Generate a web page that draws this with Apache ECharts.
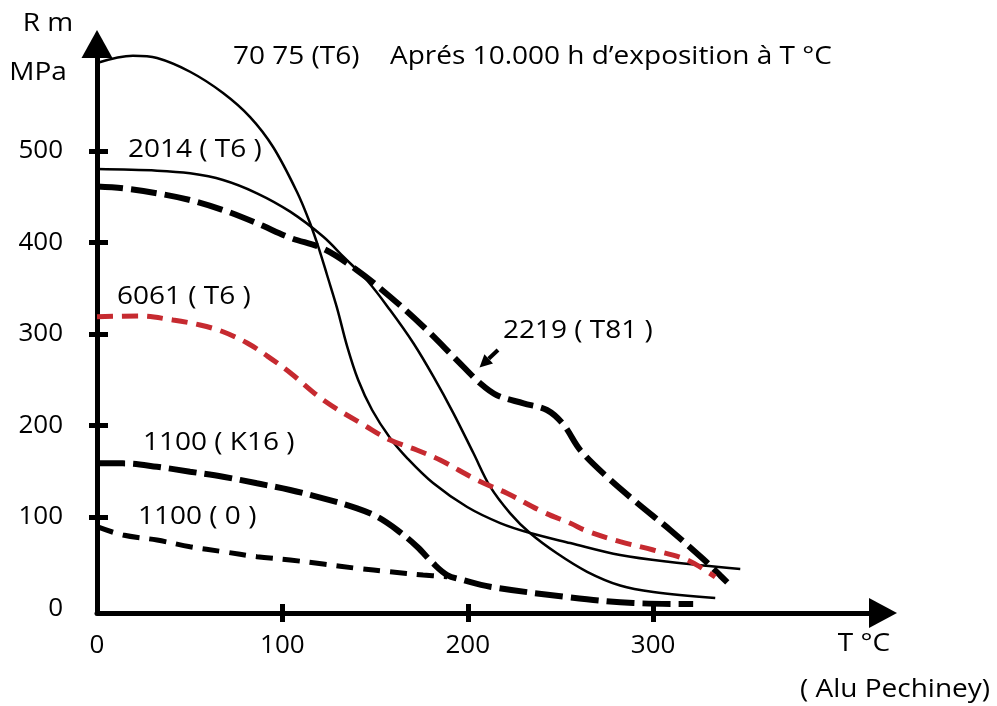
<!DOCTYPE html>
<html>
<head>
<meta charset="utf-8">
<script src="https://cdn.jsdelivr.net/npm/echarts@6/dist/echarts.min.js"></script>
<style>html,body{margin:0;padding:0;background:#fff;}#c{width:997px;height:706px;}</style>
</head>
<body>
<div id="c"></div>
<script>
// Temperature (°C) / Rm (MPa) pairs
const s7075 = [[0,596],[19.4,603.9],[32.4,601.4],[50.2,586.4],[68,563.2],[82.6,536.9],[95,504.2],[107.9,455],[114.9,421.1],[120.3,389.4],[124.1,364.3],[129.5,328.2],[134.9,286.7],[140.9,249.6],[148.4,216.8],[158.1,186.2],[167.3,164.3],[181.3,137],[199.7,110.8],[217.5,93.3],[233.7,82.4],[255.3,71.4],[282.2,58.3],[309.2,50.7],[347,43.1]];
const s2014 = [[0,480],[32.4,478.3],[50.2,475.4],[68,468.1],[86.3,453.6],[104.2,433.5],[122.1,406.1],[132.9,384.3],[145.5,358.8],[158.1,326],[170.7,289.7],[181.5,253.2],[192.3,213.2],[203.1,169.5],[212.1,133],[222.9,103.9],[233.7,82.1],[248.1,60.2],[264.4,40],[282.2,25],[300.1,18],[333.5,11.4]];
const s2219 = [[0,461],[14,459],[32.4,453.6],[50.2,446.2],[68,435.3],[86.3,420.8],[104.2,405],[122.1,393],[140.1,369.8],[158.1,340.6],[176.1,307.8],[194.1,271.4],[206.7,246],[215.7,233],[230.1,224.1],[242.7,216.8],[251.6,201],[260.7,173],[275.2,143.6],[291.4,115.2],[309.2,85.7],[327,54],[336.2,36],[340,28.4]];
const s6061 = [[0,318.7],[23.2,319.5],[41,315.1],[55.6,309.7],[68,302.3],[81,290],[91.7,276],[104.2,257.5],[122.1,227.7],[145.5,198.5],[158.1,184],[172.5,173.1],[185.1,162.2],[205,140.3],[221.2,125.8],[241,105],[255.4,93],[264.4,84.5],[282.2,73],[300.1,63.8],[318.4,52.9],[333.5,34.3]];
const s1100K16 = [[0,158.5],[14,158.5],[32.4,154.8],[50.2,149.4],[68,143.9],[86.3,136.7],[104.2,129.4],[122,120.3],[140.3,109.4],[151.1,100.2],[161.9,85.7],[172.7,67.4],[181.3,49.3],[188.9,36.5],[197.5,31],[212.1,23.7],[253.6,12.5],[289.3,5.9],[321.6,4.8]];
const s1100O = [[0,89.3],[14,80.2],[32.4,74.7],[50.2,67.4],[68,62],[86.3,56.5],[104.2,52.9],[122,48.5],[140.3,43.8],[158.1,40.1],[175.9,36.5],[188.9,34.6]];
const xTicks = [100,200,300];
const xLabels = [0,100,200,300];
const yTicks = [100,200,300,400,500];
const yLabels = [0,100,200,300,400,500];

const FONT = '"Open Sans", "Noto Sans", sans-serif';
const chart = echarts.init(document.getElementById('c'));

function txt(text, x, y, align) {
  return {type:'text', x:x, y:y, z:10, scaleX:1.12, scaleY:1,
    style:{text:text, fill:'#000', font:'25px ' + FONT, textAlign:align||'left', textVerticalAlign:'middle'}};
}
function line(name, data, color, width, type) {
  return {name:name, type:'line', data:data, xAxisIndex:0, yAxisIndex:0, showSymbol:false, smooth:0.35, z:3,
    lineStyle:{color:color, width:width, type:type, cap:'butt'}};
}

chart.setOption({
  animation:false,
  backgroundColor:'#fff',
  grid:{left:97, right:114, top:44, bottom:93},
  xAxis:[{
    type:'value', min:0, max:424, position:'bottom',
    axisLine:{show:true, onZero:false, lineStyle:{color:'#000', width:5}, symbol:['none','triangle'], symbolSize:[30,28]},
    axisTick:{show:true, inside:false, length:9, customValues:xTicks, lineStyle:{color:'#000', width:5}},
    axisLabel:{show:true, customValues:xLabels, margin:20, color:'#000', fontSize:26, fontFamily:FONT},
    splitLine:{show:false}
  },{
    type:'value', min:0, max:424, position:'bottom',
    axisLine:{show:false, onZero:false},
    axisTick:{show:true, inside:true, length:9, customValues:xTicks, lineStyle:{color:'#000', width:5}},
    axisLabel:{show:false}, splitLine:{show:false}
  }],
  yAxis:[{
    type:'value', min:-5, max:616.7, position:'left',
    axisLine:{show:true, onZero:false, lineStyle:{color:'#000', width:5}, symbol:['none','triangle'], symbolSize:[31,28]},
    axisTick:{show:true, inside:false, length:8, customValues:yTicks, lineStyle:{color:'#000', width:5}},
    axisLabel:{show:true, customValues:yLabels, margin:34, color:'#000', fontSize:26, fontFamily:FONT},
    splitLine:{show:false}
  },{
    type:'value', min:-5, max:616.7, position:'left',
    axisLine:{show:false, onZero:false},
    axisTick:{show:true, inside:true, length:11, customValues:yTicks, lineStyle:{color:'#000', width:5}},
    axisLabel:{show:false}, splitLine:{show:false}
  }],
  series:[
    line('7075 (T6)', s7075, '#000', 2.5, 'solid'),
    line('2014 (T6)', s2014, '#000', 2.5, 'solid'),
    line('2219 (T81)', s2219, '#000', 6, [26,8]),
    line('6061 (T6)', s6061, '#c62a30', 5, [16,9]),
    line('1100 (K16)', s1100K16, '#000', 6, [28,8]),
    line('1100 (0)', s1100O, '#000', 5, [17,10])
  ],
  graphic:[
    txt('R m', 48, 24, 'center'),
    txt('MPa', 38, 73, 'center'),
    txt('70 75 (T6)', 233, 57),
    txt('Aprés 10.000 h d’exposition à T °C', 390, 57),
    txt('2014 ( T6 )', 128, 150),
    txt('6061 ( T6 )', 117, 297),
    txt('1100 ( K16 )', 143, 443),
    txt('1100 ( 0 )', 138, 517),
    txt('2219 ( T81 )', 503, 331),
    txt('T °C', 864, 644, 'center'),
    txt('( Alu Pechiney)', 895, 690, 'center'),
    {type:'line', z:10, shape:{x1:498, y1:350, x2:488.7, y2:358.8}, style:{stroke:'#000', lineWidth:4}},
    {type:'polygon', z:10, shape:{points:[[479.5,367.5],[493,363.4],[484.4,354.2]]}, style:{fill:'#000'}}
  ]
});
</script>
</body>
</html>
